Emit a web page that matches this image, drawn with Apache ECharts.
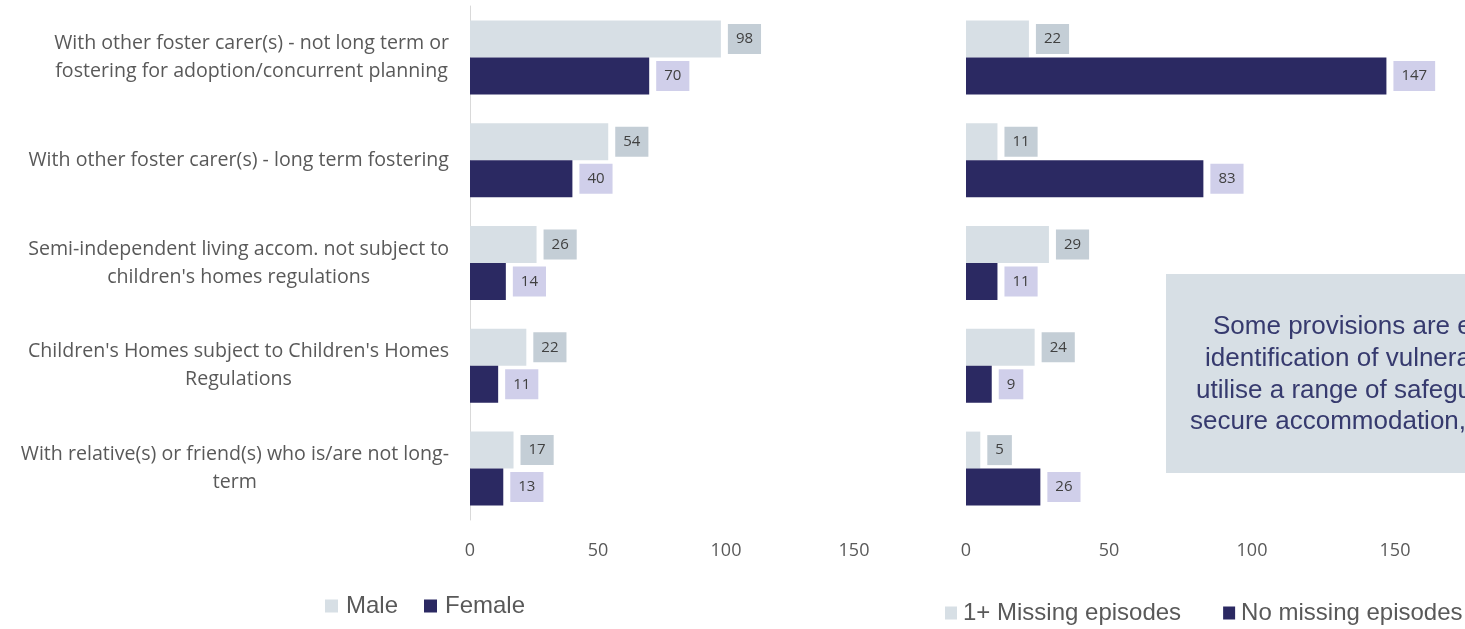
<!DOCTYPE html>
<html>
<head>
<meta charset="utf-8">
<title>Placements by gender and missing episodes</title>
<script src="https://cdn.jsdelivr.net/npm/echarts@6/dist/echarts.min.js"></script>
<style>
  html, body { margin: 0; padding: 0; background: #ffffff; }
  #chart { width: 1465px; height: 629px; }
</style>
</head>
<body>
<div id="chart"></div>
<script>
// Placement types, top to bottom
const categories = [
  "With other foster carer(s) - not long term or\nfostering for adoption/concurrent planning",
  "With other foster carer(s) - long term fostering",
  "Semi-independent living accom. not subject to\nchildren's homes regulations",
  "Children's Homes subject to Children's Homes\nRegulations",
  "With relative(s) or friend(s) who is/are not long-\nterm"
];

// Left panel: by gender
const maleValues = [98, 54, 26, 22, 17];
const femaleValues = [70, 40, 14, 11, 13];

// Right panel: by missing episodes
const missingValues = [22, 11, 29, 24, 5];
const noMissingValues = [147, 83, 11, 9, 26];

// Value axis ticks
const axisMax = 150;
const axisStep = 50;

// Side note
const noteLines = [
  "Some provisions are e",
  "identification of vulnera",
  "utilise a range of safegu",
  "secure accommodation,"
];

const LIGHT = '#d7dfe5';
const DARK = '#2b2962';
const LIGHT_TAG = '#c4ced6';
const DARK_TAG = '#d0cfea';
const GREY_TEXT = '#595959';
const LABEL_FONT = '"Open Sans", "Liberation Sans", sans-serif';
const SANS = '"Liberation Sans", Arial, sans-serif';
const CAT_FONT = '19.6px "Open Sans", "Liberation Sans", sans-serif';
const CAT_RIGHT = 449;   // right edge of the category text blocks

function valueLabel(bg) {
  return {
    show: true,
    position: 'right',
    distance: 7,
    color: '#404040',
    fontFamily: LABEL_FONT,
    fontSize: 15,
    lineHeight: 16,
    backgroundColor: bg,
    padding: [7, 8, 7, 8]
  };
}

function valueAxis(gridIndex) {
  return {
    type: 'value',
    gridIndex: gridIndex,
    min: 0,
    max: axisMax,
    interval: axisStep,
    axisLine: { show: false },
    axisTick: { show: false },
    splitLine: { show: false },
    axisLabel: {
      color: GREY_TEXT,
      fontFamily: LABEL_FONT,
      fontSize: 18,
      margin: 22
    }
  };
}

function bar(name, data, xi, color, tag) {
  return {
    name: name,
    type: 'bar',
    xAxisIndex: xi,
    yAxisIndex: xi,
    data: data,
    barWidth: 37,
    barGap: '0%',
    itemStyle: { color: color },
    label: valueLabel(tag)
  };
}

const noteX = [1213, 1205, 1196, 1190];

const option = {
  animation: false,
  backgroundColor: '#ffffff',
  grid: [
    { left: 470, right: 611, top: 6, bottom: 109, outerBoundsMode: 'none' },
    { left: 966, right: 70, top: 6, bottom: 109, outerBoundsMode: 'none' }
  ],
  xAxis: [valueAxis(0), valueAxis(1)],
  yAxis: [
    {
      type: 'category',
      gridIndex: 0,
      inverse: true,
      data: categories,
      axisLine: { show: true, lineStyle: { color: '#d9d9d9', width: 1 } },
      axisTick: { show: false },
      axisLabel: { show: false }
    },
    {
      type: 'category',
      gridIndex: 1,
      inverse: true,
      data: categories,
      axisLine: { show: false },
      axisTick: { show: false },
      axisLabel: { show: false }
    }
  ],
  legend: [
    {
      left: 325,
      top: 594,
      padding: 0,
      itemWidth: 13,
      itemHeight: 13,
      itemGap: 26,
      icon: 'rect',
      data: ['Male', 'Female'],
      textStyle: { color: GREY_TEXT, fontFamily: SANS, fontSize: 24, padding: [0, 0, 0, 3] }
    },
    {
      left: 945,
      top: 601,
      padding: 0,
      itemWidth: 12,
      itemHeight: 13,
      itemGap: 42,
      icon: 'rect',
      data: ['1+ Missing episodes', 'No missing episodes'],
      textStyle: { color: GREY_TEXT, fontFamily: SANS, fontSize: 24, padding: [0, 0, 0, 1] }
    }
  ],
  series: [
    bar('Male', maleValues, 0, LIGHT, LIGHT_TAG),
    bar('Female', femaleValues, 0, DARK, DARK_TAG),
    bar('1+ Missing episodes', missingValues, 1, LIGHT, LIGHT_TAG),
    bar('No missing episodes', noMissingValues, 1, DARK, DARK_TAG)
  ],
  graphic: [
    {
      type: 'group',
      id: 'note',
      children: [
        {
          type: 'rect',
          shape: { x: 1166, y: 274, width: 320, height: 199 },
          style: { fill: '#d7dfe5' }
        }
      ].concat(noteLines.map(function (line, i) {
        return {
          type: 'text',
          x: noteX[i],
          y: 327 + i * 31.7,
          style: {
            text: line,
            fill: '#363a6e',
            font: '26px "Liberation Sans", Arial, sans-serif',
            textAlign: 'left',
            textVerticalAlign: 'middle'
          }
        };
      }))
    }
  ]
};

const chart = echarts.init(document.getElementById('chart'), null, { renderer: 'canvas' });
chart.setOption(option);

// Category captions: each block is right-aligned against the axis while its
// lines are centred on one another, positioned from the category scale.
const measure = document.createElement('canvas').getContext('2d');
measure.font = CAT_FONT;
const captions = categories.map(function (name, i) {
  const lines = name.split('\n');
  const blockWidth = Math.max.apply(null, lines.map(function (l) { return measure.measureText(l).width; }));
  const y = chart.convertToPixel({ yAxisIndex: 0 }, name);
  return {
    type: 'text',
    id: 'cat' + i,
    x: CAT_RIGHT - blockWidth / 2,
    y: y,
    style: {
      text: name,
      font: CAT_FONT,
      fill: GREY_TEXT,
      textAlign: 'center',
      textVerticalAlign: 'middle',
      lineHeight: 28
    }
  };
});
chart.setOption({ graphic: captions });
</script>
</body>
</html>
